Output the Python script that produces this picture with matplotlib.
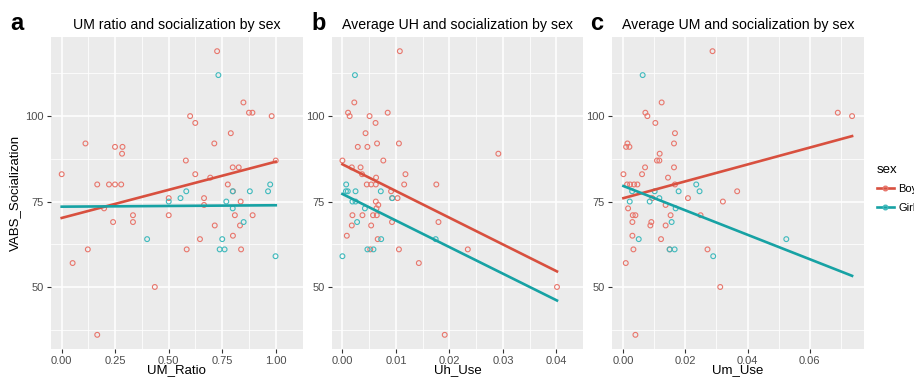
import matplotlib
matplotlib.use("Agg")
import matplotlib.pyplot as plt
import numpy as np
from matplotlib.lines import Line2D

plt.rcParams["font.family"] = ["Liberation Sans", "DejaVu Sans"]

# VABS socialization scores (shared by all three panels), per sex
BOYS_SOC = [119, 104, 101, 101, 100, 100, 98, 95, 92, 92, 91, 91, 89, 87, 87,
            85, 85, 83, 83, 82, 80, 80, 80, 80, 80, 78, 76, 76, 75, 74, 73,
            71, 71, 71, 71, 69, 69, 68, 68, 65, 64, 61, 61, 61, 57, 50, 36]
GIRLS_SOC = [112, 80, 78, 78, 78, 78, 76, 75, 75, 73, 69, 64, 64, 61, 61, 59]

# panel a: UM_Ratio
BOYS_UM_RATIO = [0.726, 0.849, 0.875, 0.891, 0.600, 0.981, 0.624, 0.790, 0.111, 0.713,
                 0.249, 0.284, 0.282, 0.580, 1.0, 0.799, 0.827, 0.0, 0.624, 0.694,
                 0.166, 0.221, 0.249, 0.278, 0.776, 0.800, 0.50, 0.665, 0.836, 0.665,
                 0.198, 0.333, 0.50, 0.809, 0.892, 0.24, 0.333, 0.715, 0.833, 0.80,
                 0.646, 0.122, 0.584, 0.838, 0.051, 0.435, 0.166]
GIRLS_UM_RATIO = [0.732, 0.974, 0.582, 0.799, 0.879, 0.964, 0.555, 0.50, 0.769, 0.799,
                  0.850, 0.399, 0.75, 0.738, 0.761, 0.999]

# panel b: Uh_Use
BOYS_UH = [0.01073, 0.00222, 0.00105, 0.00846, 0.00135, 0.00507, 0.00619, 0.00432,
           0.00647, 0.01056, 0.00287, 0.00467, 0.02914, 0.0, 0.00764, 0.00175, 0.00339,
           0.00367, 0.01178, 0.00629, 0.00455, 0.00537, 0.00624, 0.01154, 0.01755,
           0.00909, 0.0093, 0.0103, 0.00624, 0.0067, 0.00636, 0.00187, 0.00374,
           0.00572, 0.00642, 0.00927, 0.01795, 0.00175, 0.00537, 0.00082, 0.00659,
           0.0052, 0.01056, 0.02343, 0.01428, 0.0401, 0.01912]
GIRLS_UH = [0.00234, 0.0007, 0.00065, 0.001, 0.00245, 0.00717, 0.0093, 0.00187, 0.00245,
            0.0042, 0.00274, 0.00724, 0.01743, 0.00467, 0.0058, 0.0]

# panel c: Um_Use
BOYS_UM = [0.02872, 0.01232, 0.00707, 0.0691, 0.00772, 0.0737, 0.01029, 0.01661,
           0.00129, 0.0163, 0.00086, 0.00193, 0.01168, 0.01082, 0.01158, 0.00697, 0.0163,
           0.0, 0.006, 0.01437, 0.00118, 0.00214, 0.00343, 0.0045, 0.01661, 0.03666,
           0.0093, 0.0208, 0.03206, 0.0136, 0.0015, 0.003, 0.00386, 0.0152, 0.02486,
           0.00289, 0.009, 0.00868, 0.0136, 0.00289, 0.01212, 0.00322, 0.0149, 0.0271,
           0.00075, 0.0312, 0.00386]
GIRLS_UM = [0.0062, 0.02347, 0.0028, 0.01007, 0.01779, 0.02454, 0.01158, 0.00203, 0.00846,
            0.01683, 0.01554, 0.00493, 0.0525, 0.0149, 0.0165, 0.02894]

PANELS = [
    ("a", "UM ratio and socialization by sex", "UM_Ratio", BOYS_UM_RATIO, GIRLS_UM_RATIO,
     [0.0, 0.25, 0.5, 0.75, 1.0], ["0.00", "0.25", "0.50", "0.75", "1.00"]),
    ("b", "Average UH and socialization by sex", "Uh_Use", BOYS_UH, GIRLS_UH,
     [0.0, 0.01, 0.02, 0.03, 0.04], ["0.00", "0.01", "0.02", "0.03", "0.04"]),
    ("c", "Average UM and socialization by sex", "Um_Use", BOYS_UM, GIRLS_UM,
     [0.0, 0.02, 0.04, 0.06], ["0.00", "0.02", "0.04", "0.06"]),
]

BOY_PT, GIRL_PT = "#E8766C", "#3FBABD"
BOY_LN, GIRL_LN = "#D8503F", "#17A2A4"
W, H = 914, 378
AXES_LEFT = [51, 331.7, 612]       # px
LETTER_X = [10, 311, 590]          # px
AX_W, AX_B, AX_H = 251.5 / W, 29 / H, 312 / H


def expand(vals):
    lo, hi = min(vals), max(vals)
    pad = (hi - lo) * 0.05
    return lo - pad, hi + pad


def plot_panel(fig, left, letter_x, panel):
    letter, title, xlabel, bx, gx, ticks, ticklabels = panel
    ax = fig.add_axes([left / W, AX_B, AX_W, AX_H])
    ax.set_facecolor("#EBEBEB")
    for s in ax.spines.values():
        s.set_visible(False)

    xall = bx + gx
    x0, x1 = min(xall), max(xall)
    ax.set_xlim(*expand(xall))
    ax.set_ylim(*expand(BOYS_SOC + GIRLS_SOC))

    ax.set_xticks(ticks)
    ax.set_xticklabels(ticklabels)
    step = ticks[1] - ticks[0]
    ax.set_xticks([t + step / 2 for t in ticks], minor=True)
    ax.set_yticks([50, 75, 100])
    ax.set_yticks([37.5, 62.5, 87.5, 112.5], minor=True)
    ax.grid(which="major", color="white", lw=1.1)
    ax.grid(which="minor", color="white", lw=0.55)
    ax.set_axisbelow(True)
    ax.tick_params(which="major", length=3, width=0.8, color="#333333",
                   labelsize=8, labelcolor="#4D4D4D", pad=2)
    ax.tick_params(which="minor", length=0)

    # fitted line spans the whole x range of the panel (fullrange)
    xs = np.linspace(x0, x1, 50)
    for xv, yv, pc, lc in [(bx, BOYS_SOC, BOY_PT, BOY_LN), (gx, GIRLS_SOC, GIRL_PT, GIRL_LN)]:
        ax.scatter(xv, yv, s=12, facecolors="none", edgecolors=pc, linewidths=0.8, zorder=3)
        slope, icpt = np.polyfit(xv, yv, 1)
        ax.plot(xs, slope * xs + icpt, color=lc, lw=1.9, zorder=4)

    ax.set_xlabel(xlabel, fontsize=9.5)
    ax.xaxis.set_label_coords(0.5, -15.5 / 312)
    ax.set_title(title, fontsize=10.2, pad=6)
    fig.text(letter_x / W, 1 - 23 / H, letter, fontsize=17, fontweight="bold",
             ha="left", va="center")
    return ax


fig = plt.figure(figsize=(W / 100, H / 100), dpi=100)
axes = [plot_panel(fig, l, lx, p) for l, lx, p in zip(AXES_LEFT, LETTER_X, PANELS)]
axes[0].set_ylabel("VABS_Socialization", fontsize=9.5, labelpad=3)

handles = [Line2D([], [], color=BOY_LN, lw=1.9, marker="o", markersize=3.3,
                  markerfacecolor="none", markeredgecolor=BOY_PT),
           Line2D([], [], color=GIRL_LN, lw=1.9, marker="o", markersize=3.3,
                  markerfacecolor="none", markeredgecolor=GIRL_PT)]
leg = fig.legend(handles, ["Boys", "Girls"], title="sex", loc="upper left",
                 bbox_to_anchor=(877 / W, 1 - 164 / H), frameon=False, fontsize=8,
                 title_fontsize=9.5, handlelength=1.5, handletextpad=0.4,
                 labelspacing=0.75, borderaxespad=0, borderpad=0)
leg._legend_box.align = "left"

fig.savefig("out.png", dpi=100)
